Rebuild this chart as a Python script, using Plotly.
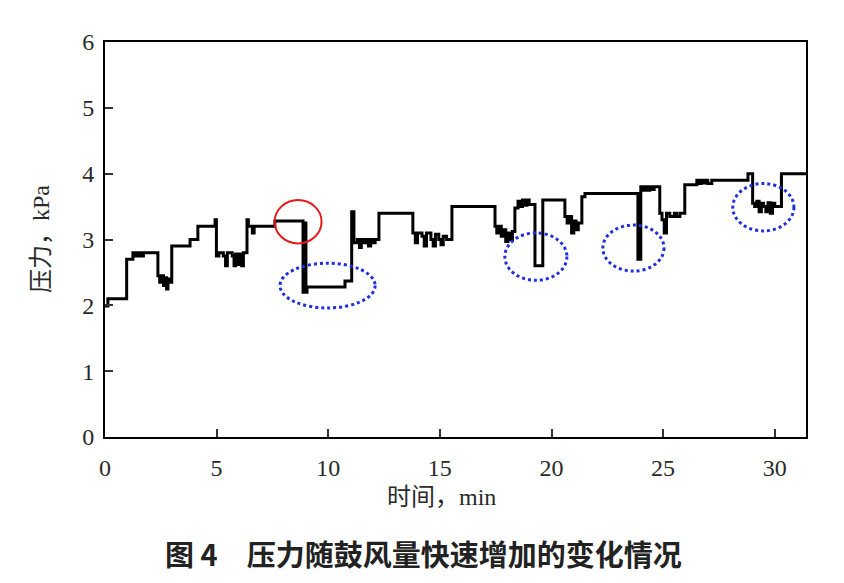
import plotly.graph_objects as go

# time (min) and pressure (kPa), step-wise record
time_min = [0.00, 0.13, 0.97, 1.25, 1.35, 1.42, 1.50, 1.58, 1.65, 1.72,
            2.37, 2.45, 2.55, 2.62, 2.70, 2.76, 2.82, 2.90, 2.99, 3.81,
            4.16, 4.93, 4.99, 5.10, 5.30, 5.40, 5.48, 5.70, 5.78, 5.85,
            5.95, 6.03, 6.12, 6.20, 6.36, 6.42, 6.60, 6.68, 7.61, 8.87,
            8.95, 9.00, 9.05, 10.75, 11.05, 11.15, 11.30, 11.40, 11.48, 11.60,
            11.70, 11.80, 11.90, 12.00, 12.10, 12.27, 13.79, 13.90, 14.00, 14.20,
            14.30, 14.40, 14.60, 14.70, 14.80, 14.95, 15.05, 15.15, 15.30, 15.54,
            17.47, 17.55, 17.65, 17.75, 17.85, 17.95, 18.05, 18.15, 18.25, 18.36,
            18.50, 18.60, 18.70, 18.80, 18.90, 19.00, 19.26, 19.61, 20.60, 20.70,
            20.80, 20.90, 21.00, 21.10, 21.20, 21.36, 21.50, 23.87, 24.00, 24.10,
            24.20, 24.30, 24.40, 24.50, 24.60, 24.85, 24.95, 25.05, 25.15, 25.30,
            25.50, 25.60, 25.75, 25.97, 26.51, 26.60, 26.70, 26.80, 26.90, 27.00,
            27.18, 28.80, 29.01, 29.10, 29.20, 29.30, 29.40, 29.50, 29.60, 29.70,
            29.80, 29.90, 30.00, 30.30, 31.40]
pressure_kpa = [1.99, 2.10, 2.70, 2.80, 2.75, 2.80, 2.75, 2.80, 2.75, 2.80,
                2.45, 2.35, 2.45, 2.30, 2.42, 2.25, 2.40, 2.35, 2.90, 3.00,
                3.20, 3.30, 2.75, 2.80, 2.75, 2.60, 2.80, 2.75, 2.60, 2.78,
                2.62, 2.78, 2.60, 2.80, 3.30, 3.20, 3.10, 3.20, 3.28, 2.20,
                3.25, 2.20, 2.28, 2.37, 3.42, 2.95, 3.00, 2.88, 3.00, 2.95,
                3.00, 2.90, 3.00, 2.95, 3.00, 3.40, 3.10, 2.95, 3.10, 3.05,
                2.90, 3.10, 3.00, 2.90, 3.08, 3.00, 2.92, 3.05, 3.00, 3.50,
                3.20, 3.10, 3.20, 3.05, 3.15, 2.97, 3.10, 3.00, 3.12, 3.48,
                3.58, 3.50, 3.60, 3.52, 3.60, 3.53, 2.60, 3.60, 3.35, 3.25,
                3.35, 3.10, 3.28, 3.15, 3.25, 3.65, 3.70, 2.70, 3.80, 3.75,
                3.80, 3.75, 3.80, 3.76, 3.80, 3.40, 3.30, 3.10, 3.40, 3.35,
                3.40, 3.35, 3.40, 3.83, 3.90, 3.85, 3.90, 3.86, 3.90, 3.85,
                3.90, 4.00, 3.55, 3.50, 3.58, 3.42, 3.55, 3.50, 3.42, 3.56,
                3.40, 3.55, 3.50, 4.00, 4.00]

x_ticks = [0, 5, 10, 15, 20, 25, 30]
y_ticks = [0, 1, 2, 3, 4, 5, 6]

# highlight marks: (x center, y center, x half-width, y half-height) in data units
red_circle = (8.65, 3.27, 1.05, 0.33)
blue_ellipses = [(9.97, 2.30, 2.13, 0.34),
                 (19.30, 2.74, 1.39, 0.36),
                 (23.67, 2.87, 1.37, 0.35),
                 (29.49, 3.49, 1.37, 0.36)]

FONT = "Liberation Serif, Noto Sans CJK SC"

fig = go.Figure()
fig.add_trace(go.Scatter(x=time_min, y=pressure_kpa, mode="lines",
                         line=dict(color="black", width=3, shape="hv"),
                         showlegend=False, hoverinfo="skip"))

shapes = []
cx, cy, rx, ry = red_circle
shapes.append(dict(type="circle", xref="x", yref="y", x0=cx - rx, x1=cx + rx,
                   y0=cy - ry, y1=cy + ry, line=dict(color="#e8161b", width=2)))
for cx, cy, rx, ry in blue_ellipses:
    shapes.append(dict(type="circle", xref="x", yref="y", x0=cx - rx, x1=cx + rx,
                       y0=cy - ry, y1=cy + ry,
                       line=dict(color="#1f2ee0", width=3, dash="dot")))

fig.update_layout(
    width=844, height=583,
    margin=dict(l=105, r=38, t=42, b=146),
    paper_bgcolor="white", plot_bgcolor="white",
    font=dict(family=FONT, size=20, color="#2a2a2a"),
    shapes=shapes,
    xaxis=dict(range=[0, 31.4], tickvals=x_ticks, ticks="inside", ticklen=8,
               tickwidth=1.5, tickcolor="#333", showline=True, linecolor="black",
               linewidth=2, mirror=True, showgrid=False, zeroline=False,
               ticklabelstandoff=8,
               tickfont=dict(family=FONT, size=24)),
    yaxis=dict(range=[0, 6], tickvals=y_ticks, ticks="inside", ticklen=8,
               tickwidth=1.5, tickcolor="#333", showline=True, linecolor="black",
               linewidth=2, mirror=True, showgrid=False, zeroline=False,
               ticklabelstandoff=4,
               tickfont=dict(family=FONT, size=24)),
    annotations=[
        dict(text="时间，min", xref="paper", yref="paper", x=0.48, y=-0.115,
             xanchor="center", yanchor="top", showarrow=False,
             font=dict(family=FONT, size=24)),
        dict(text="压力，kPa", xref="paper", yref="paper", x=-0.092, y=0.5,
             xanchor="center", yanchor="middle", textangle=-90, showarrow=False,
             font=dict(family=FONT, size=24)),
        dict(text="图 4　压力随鼓风量快速增加的变化情况", xref="paper", yref="paper",
             x=0.455, y=-0.235, xanchor="center", yanchor="top", showarrow=False,
             font=dict(family="Noto Sans CJK SC", size=29, color="#222222", weight="bold")),
    ],
)

fig.write_html("out.html")
